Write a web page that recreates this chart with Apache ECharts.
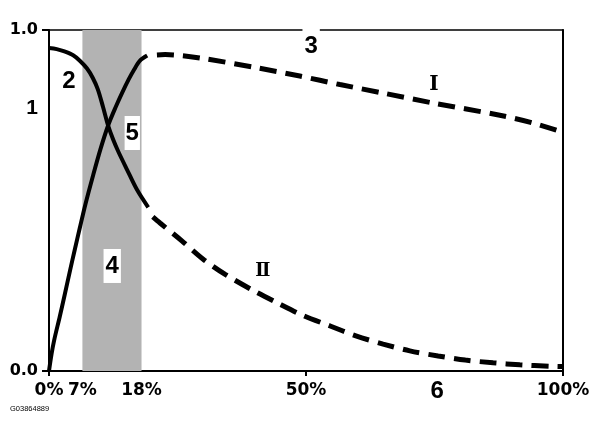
<!DOCTYPE html>
<html>
<head>
<meta charset="utf-8">
<script src="https://cdn.jsdelivr.net/npm/echarts@6/dist/echarts.min.js"></script>
<style>
html,body{margin:0;padding:0;background:#fff;}
#chart{width:600px;height:433px;}
</style>
</head>
<body>
<div id="chart"></div>
<script>
// ---- data ----
const xTickValues = [0, 6.5, 18, 50, 75.5, 100];
const xTickLabels = ['0%', '7%', '18%', '50%', '6', '100%'];
const xMarkValues = [0, 50, 100];
const yTickValues = [0, 0.772, 1];
const yTickLabels = ['0.0', '1', '1.0'];
const yMarkValues = [0, 1];

const bandRange = [6.5, 18];

const declineSolidX = [0, 1.5, 3, 4.7, 6, 7.4, 8.5, 9.5, 10.5, 11.5, 12.5, 13.5, 15.2, 17.1, 19.3];
const declineSolidY = [0.947, 0.944, 0.937, 0.926, 0.91, 0.887, 0.86, 0.826, 0.775, 0.72, 0.678, 0.643, 0.59, 0.532, 0.48];

const declineDashX = [20.2, 21.6, 25.9, 30, 34.2, 39.5, 44.4, 49.4, 54.7, 59.7, 65, 70.2, 75.7, 81, 86.4, 91.6, 97.3, 100];
const declineDashY = [0.452, 0.434, 0.381, 0.328, 0.284, 0.238, 0.2, 0.163, 0.132, 0.103, 0.079, 0.059, 0.044, 0.032, 0.024, 0.018, 0.014, 0.013];

const riseSolidX = [0, 0.5, 1, 2.1, 3, 4.1, 5, 6, 7.1, 8.6, 10, 11.5, 13, 14.2, 15.5, 16.6, 17.7, 19.1];
const riseSolidY = [0, 0.05, 0.09, 0.16, 0.22, 0.295, 0.355, 0.42, 0.49, 0.575, 0.65, 0.72, 0.775, 0.815, 0.855, 0.885, 0.91, 0.925];

const riseDashX = [21, 22.6, 29.4, 40.5, 48.8, 56.6, 65, 74.7, 87.7, 94.2, 100];
const riseDashY = [0.927, 0.928, 0.918, 0.889, 0.865, 0.84, 0.815, 0.786, 0.75, 0.727, 0.70];

const annoText = ['2', '3', '5', '4', 'Ⅰ', 'Ⅱ'];
const annoX = [3.9, 51, 16.2, 12.3, 74.9, 41.6];
const annoY = [0.85, 0.953, 0.698, 0.308, 0.839, 0.293];

const footnote = 'G03864889';

// ---- build ----
const zip = (xs, ys) => xs.map((x, i) => [x, ys[i]]);
const findLabel = (vals, labels, v) => {
  for (let i = 0; i < vals.length; i++) if (Math.abs(vals[i] - v) < 1e-6) return labels[i];
  return '';
};

const annoStyles = {
  '2': {fontFamily: 'Liberation Sans', fontWeight: 'bold', fontSize: 24},
  '3': {fontFamily: 'Liberation Sans', fontWeight: 'bold', fontSize: 24, backgroundColor: '#fff', padding: [6, 2]},
  '5': {fontFamily: 'Liberation Sans', fontWeight: 'bold', fontSize: 24, backgroundColor: '#fff', padding: [5, 1]},
  '4': {fontFamily: 'Liberation Sans', fontWeight: 'bold', fontSize: 24, backgroundColor: '#fff', padding: [5, 2]},
  'Ⅰ': {fontFamily: 'DejaVu Serif', fontWeight: 'bold', fontSize: 20},
  'Ⅱ': {fontFamily: 'DejaVu Serif', fontWeight: 'bold', fontSize: 18}
};

const annoData = annoText.map((t, i) => ({
  value: [annoX[i], annoY[i]],
  label: Object.assign({show: true, position: 'inside', formatter: t, color: '#000',
    textBorderWidth: 0, opacity: 1}, annoStyles[t])
}));

const chart = echarts.init(document.getElementById('chart'), null, {renderer: 'canvas'});

const solidStyle = {color: '#000', width: 4};
const dashStyle = {color: '#000', width: 5, type: [17, 9], cap: 'butt'};

chart.setOption({
  animation: false,
  backgroundColor: '#fff',
  grid: {left: 49, right: 37, top: 30, bottom: 62},
  xAxis: [{
    type: 'value', min: 0, max: 100, position: 'bottom',
    axisLine: {show: true, onZero: false, lineStyle: {color: '#000', width: 2}},
    axisTick: {show: true, customValues: xMarkValues, length: 5, lineStyle: {color: '#000', width: 2}},
    splitLine: {show: false},
    axisLabel: {
      customValues: xTickValues,
      margin: 11,
      color: '#000', fontFamily: 'DejaVu Sans', fontWeight: 'bold', fontSize: 17,
      formatter: v => {
        const t = findLabel(xTickValues, xTickLabels, v);
        return t === '6' ? '{big|' + t + '}' : t;
      },
      rich: {big: {fontFamily: 'Liberation Sans', fontWeight: 'bold', fontSize: 24, lineHeight: 18, color: '#000'}}
    }
  }, {
    type: 'value', min: 0, max: 100, position: 'top',
    axisLine: {show: true, onZero: false, lineStyle: {color: '#000', width: 1.5}},
    axisTick: {show: false}, axisLabel: {show: false}, splitLine: {show: false}
  }],
  yAxis: [{
    type: 'value', min: 0, max: 1, position: 'left',
    axisLine: {show: true, onZero: false, lineStyle: {color: '#000', width: 2}},
    axisTick: {show: true, customValues: yMarkValues, length: 7, lineStyle: {color: '#000', width: 2}},
    splitLine: {show: false},
    axisLabel: {
      customValues: yTickValues,
      margin: 11,
      color: '#000', fontFamily: 'DejaVu Sans', fontWeight: 'bold', fontSize: 16,
      formatter: v => {
        const t = findLabel(yTickValues, yTickLabels, v);
        return t === '1' ? '{big|' + t + '}' : t;
      },
      rich: {big: {fontFamily: 'Liberation Sans', fontWeight: 'bold', fontSize: 21, color: '#000'}}
    }
  }, {
    type: 'value', min: 0, max: 1, position: 'right',
    axisLine: {show: true, onZero: false, lineStyle: {color: '#000', width: 2}},
    axisTick: {show: false}, axisLabel: {show: false}, splitLine: {show: false}
  }],
  series: [
    {
      name: 'band', type: 'line', data: [], z: 1,
      markArea: {silent: true, itemStyle: {color: '#b3b3b3'}, data: [[{xAxis: bandRange[0]}, {xAxis: bandRange[1]}]]}
    },
    {name: 'declineSolid', type: 'line', smooth: 0.3, symbol: 'none', z: 3, lineStyle: solidStyle, data: zip(declineSolidX, declineSolidY)},
    {name: 'declineDash', type: 'line', smooth: 0.3, symbol: 'none', z: 3, lineStyle: dashStyle, data: zip(declineDashX, declineDashY)},
    {name: 'riseSolid', type: 'line', smooth: 0.3, symbol: 'none', z: 3, lineStyle: solidStyle, data: zip(riseSolidX, riseSolidY)},
    {name: 'riseDash', type: 'line', smooth: 0.3, symbol: 'none', z: 3, lineStyle: dashStyle, data: zip(riseDashX, riseDashY)},
    {name: 'annotations', type: 'scatter', symbolSize: 0, z: 6, clip: false,
      itemStyle: {opacity: 1}, data: annoData}
  ],
  graphic: [{
    type: 'text', left: 10, top: 405,
    style: {text: footnote, fontFamily: 'Liberation Sans', fontSize: 7.5, fill: '#000'}
  }]
});
</script>
</body>
</html>
